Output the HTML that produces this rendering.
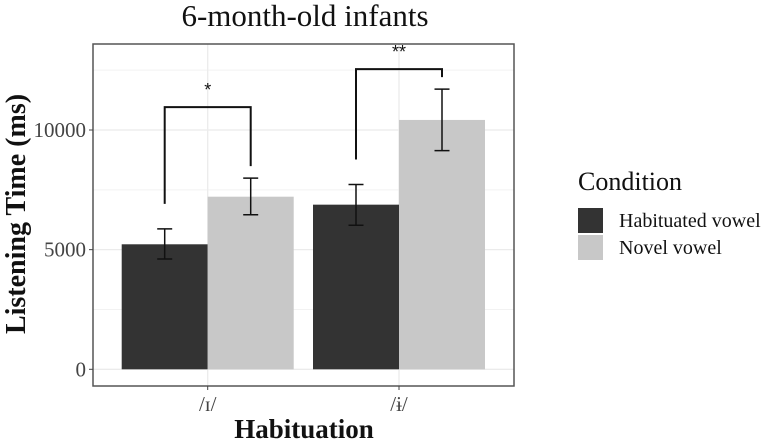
<!DOCTYPE html>
<html><head><meta charset="utf-8"><style>
body{margin:0;background:#fff;}
svg{display:block;font-family:"Liberation Serif",serif;}
</style></head><body>
<svg id="chart" width="782" height="443" viewBox="0 0 782 443">
<rect width="782" height="443" fill="#fff"/>
<g id="grid"></g>
<g id="bars"></g>
<g id="errs"></g>
<g id="sig"></g>
<rect x="93" y="44" width="421" height="342" fill="none" stroke="#555" stroke-width="1.5"/>
<g id="axes"></g>
<text x="305" y="26" font-size="31" text-anchor="middle" fill="#111">6-month-old infants</text>
<text x="304" y="438" font-size="27" font-weight="bold" text-anchor="middle" fill="#111">Habituation</text>
<text transform="translate(25,214) rotate(-90)" font-size="28" font-weight="bold" text-anchor="middle" fill="#111">Listening Time (ms)</text>
<g>
<text x="578" y="190" font-size="26" fill="#111">Condition</text>
<rect x="578" y="208" width="25" height="25" fill="#333"/>
<rect x="578" y="235" width="25" height="25" fill="#c8c8c8"/>
<text x="619" y="227" font-size="20" fill="#111">Habituated vowel</text>
<text x="619" y="254" font-size="20" fill="#111">Novel vowel</text>
</g>
</svg>
<script>
const categories = ["/ɪ/", "/ɨ/"];
const habituated = [5224, 6880];
const novel = [7213, 10420];
const habErrLo = [4610, 6020];
const habErrHi = [5870, 7720];
const novErrLo = [6460, 9140];
const novErrHi = [7990, 11710];
const yTicks = [0, 5000, 10000];
const yMinor = [2500, 7500, 12500];
const sigLabels = ["*", "**"];

const NS = "http://www.w3.org/2000/svg";
const y = v => 369.3 - v * 0.02393;
const xc = i => 207.7 + i * 191.3;
const bw = 86;
function mk(parent, tag, attrs){const e=document.createElementNS(NS,tag);for(const k in attrs)e.setAttribute(k,attrs[k]);document.getElementById(parent).appendChild(e);return e;}

yMinor.forEach(v=>{const l=mk("grid","line",{x1:93,x2:514,y1:y(v),y2:y(v),stroke:"#f2f2f2","stroke-width":1});

});
yTicks.forEach(v=>{const l=mk("grid","line",{x1:93,x2:514,y1:y(v),y2:y(v),stroke:"#ebebeb","stroke-width":1.3});


const t=mk("axes","text",{x:86,y:y(v)+7,"font-size":21,"text-anchor":"end",fill:"#444"});t.textContent=v;


const k=mk("axes","line",{x1:89,x2:93,y1:y(v),y2:y(v),stroke:"#444"});

});
categories.forEach((c,i)=>{const l=mk("grid","line",{x1:xc(i),x2:xc(i),y1:44,y2:386,stroke:"#ebebeb","stroke-width":1.3});


const t=mk("axes","text",{x:xc(i),y:411,"font-size":21,"text-anchor":"middle",fill:"#444"});t.textContent=c;


const k=mk("axes","line",{x1:xc(i),x2:xc(i),y1:386,y2:390,stroke:"#444"});



const series=[[habituated,habErrLo,habErrHi,"#333",-1,"habituated"],[novel,novErrLo,novErrHi,"#c8c8c8",0,"novel"]];
series.forEach(s=>{const x0=xc(i)+s[4]*bw;
const b=mk("bars","rect",{x:x0,y:y(s[0][i]),width:bw,height:y(0)-y(s[0][i]),fill:s[3]});


const cx=x0+bw/2,lo=y(s[1][i]),hi=y(s[2][i]);
const e=mk("errs","path",{d:`M${cx-7.5},${hi}H${cx+7.5}M${cx},${hi}V${lo}M${cx-7.5},${lo}H${cx+7.5}`,stroke:"#111","stroke-width":1.5,fill:"none"});

});

const lx=xc(i)-bw/2, rx=xc(i)+bw/2;
const ly=y(habErrHi[i])-25, ry=y(novErrHi[i])-12;
const topY = i===0 ? y(novErrHi[i])-71 : y(novErrHi[i])-20;
const br=mk("sig","path",{d:`M${lx},${ly}V${topY}H${rx}V${ry}`,stroke:"#111","stroke-width":2,fill:"none"});


const st=mk("sig","text",{x:(lx+rx)/2,y:topY-11,"font-size":18,"text-anchor":"middle",fill:"#111","font-family":"Liberation Sans, sans-serif"});st.textContent=sigLabels[i];


});
</script>
</body></html>
